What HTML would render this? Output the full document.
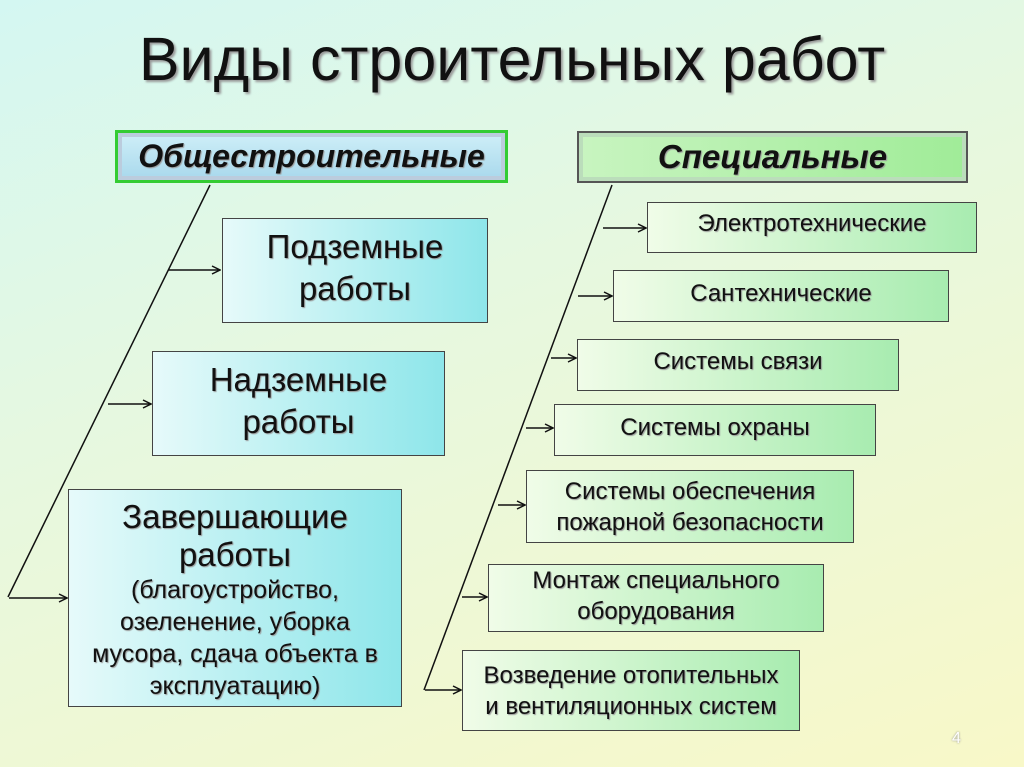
<!DOCTYPE html>
<html><head><meta charset="utf-8"><style>
body{margin:0;width:1024px;height:767px;overflow:hidden;font-family:"Liberation Sans",sans-serif;
background:linear-gradient(160deg,#d4f7f2 0%,#e6f8e0 40%,#f8f8c8 100%);position:relative}
.b{position:absolute;box-sizing:border-box;border:1.5px solid #444;display:flex;align-items:center;justify-content:center;text-align:center;color:#111;text-shadow:1px 1px 1px #999;white-space:nowrap}
.c{background:linear-gradient(90deg,#e6fafa,#8ee6ea)}
.g{background:linear-gradient(90deg,#f0fce8,#a8ecb0);font-size:24px;line-height:31px}
h1{position:absolute;left:0;width:1024px;top:24px;margin:0;text-align:center;font-weight:normal;font-size:61px;color:#111;text-shadow:2px 2px 2px #999}
.big{font-size:33px;line-height:42px}
</style></head><body>
<h1>Виды строительных работ</h1>
<div class="b" style="left:115px;top:130px;width:393px;height:53px;border:3px solid #3c3;background:linear-gradient(#cfeff8,#a8d8ec);font-weight:bold;font-style:italic;font-size:32px;box-shadow:inset 0 0 0 4px #bcd">Общестроительные</div>
<div class="b" style="left:577px;top:131px;width:391px;height:52px;border:2px solid #555;background:linear-gradient(90deg,#c8f4c0,#a0ec98);font-weight:bold;font-style:italic;font-size:33px;box-shadow:inset 0 0 0 4px #bdb">Специальные</div>
<div class="b c big" style="left:222px;top:218px;width:266px;height:105px;padding-bottom:6px">Подземные<br>работы</div>
<div class="b c big" style="left:152px;top:351px;width:293px;height:105px;padding-bottom:6px">Надземные<br>работы</div>
<div class="b c" style="left:68px;top:489px;width:334px;height:218px;flex-direction:column;justify-content:flex-start;padding-top:8px;font-size:25px;line-height:32px"><span class="big" style="line-height:38px">Завершающие<br>работы</span><span>(благоустройство,<br>озеленение, уборка<br>мусора, сдача объекта в<br>эксплуатацию)</span></div>
<div class="b g" style="left:647px;top:202px;width:330px;height:51px;padding-bottom:8px">Электротехнические</div>
<div class="b g" style="left:613px;top:270px;width:336px;height:52px;padding-bottom:6px">Сантехнические</div>
<div class="b g" style="left:577px;top:339px;width:322px;height:52px;padding-bottom:8px">Системы связи</div>
<div class="b g" style="left:554px;top:404px;width:322px;height:52px;padding-bottom:6px">Системы охраны</div>
<div class="b g" style="left:526px;top:470px;width:328px;height:73px">Системы обеспечения<br>пожарной безопасности</div>
<div class="b g" style="left:488px;top:564px;width:336px;height:68px;padding-bottom:4px">Монтаж специального<br>оборудования</div>
<div class="b g" style="left:462px;top:650px;width:338px;height:81px">Возведение отопительных<br>и вентиляционных систем</div>
<div style="position:absolute;left:952px;top:730px;font-size:16px;color:#fff;text-shadow:0 0 2px #888">4</div>
<svg width="1024" height="767" style="position:absolute;left:0;top:0" fill="none" stroke="#111" stroke-width="1.5">
<defs><marker id="a" markerWidth="10" markerHeight="10" refX="9" refY="5" orient="auto" markerUnits="userSpaceOnUse"><path d="M1,1 L9,5 L1,9" fill="none" stroke="#111" stroke-width="1.5"/></marker></defs>
<line x1="210" y1="185" x2="8" y2="597"/>
<line x1="168" y1="270" x2="220" y2="270" marker-end="url(#a)"/>
<line x1="108" y1="404" x2="151" y2="404" marker-end="url(#a)"/>
<line x1="9" y1="598" x2="67" y2="598" marker-end="url(#a)"/>
<line x1="612" y1="185" x2="424" y2="690"/>
<line x1="603" y1="228" x2="646" y2="228" marker-end="url(#a)"/>
<line x1="578" y1="296" x2="612" y2="296" marker-end="url(#a)"/>
<line x1="551" y1="358" x2="576" y2="358" marker-end="url(#a)"/>
<line x1="526" y1="428" x2="553" y2="428" marker-end="url(#a)"/>
<line x1="498" y1="505" x2="525" y2="505" marker-end="url(#a)"/>
<line x1="462" y1="597" x2="487" y2="597" marker-end="url(#a)"/>
<line x1="425" y1="690" x2="461" y2="690" marker-end="url(#a)"/>
</svg>
</body></html>
